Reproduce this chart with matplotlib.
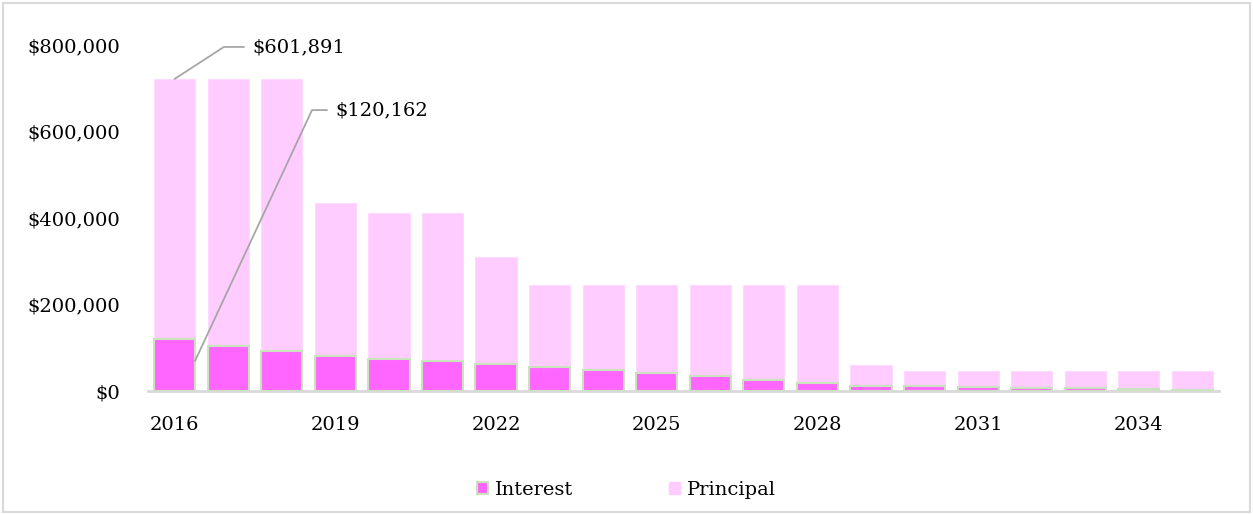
import matplotlib.pyplot as plt
from matplotlib.patches import Patch, Rectangle
from matplotlib.ticker import FuncFormatter
import numpy as np

# Annual debt service, split into interest and principal
years = list(range(2016, 2036))
interest = [120162, 104000, 92000, 82000, 75000, 69000, 62000, 55500, 48600, 42300,
            34000, 26000, 18500, 12000, 11000, 9000, 7500, 6500, 5000, 3000]
principal = [601891, 618000, 630000, 353000, 337000, 343000, 249000, 189500, 196400, 202700,
             211000, 219000, 226500, 47400, 36000, 38000, 39500, 40500, 42000, 44000]
tick_years = [2016, 2019, 2022, 2025, 2028, 2031, 2034]

INTEREST_COLOR = "#FF66FF"
INTEREST_EDGE = "#C9E3BC"
PRINCIPAL_COLOR = "#FFCCFF"
AXIS_GRAY = "#D9D9D9"
LEADER_GRAY = "#A6A6A6"

plt.rcParams["font.family"] = ["DejaVu Serif"]
plt.rcParams["font.size"] = 14

fig = plt.figure(figsize=(12.53, 5.14), dpi=100)
ax = fig.add_axes([0.118, 0.239, 0.855, 0.673])

x = np.arange(len(years))
width = 0.77
ax.bar(x, interest, width, color=INTEREST_COLOR, edgecolor=INTEREST_EDGE,
       linewidth=1.5, label="Interest", zorder=3)
ax.bar(x, principal, width, bottom=interest, color=PRINCIPAL_COLOR,
       edgecolor="#FFD6FF", linewidth=0.6, label="Principal", zorder=2)

ax.set_xlim(-0.5, len(years) - 0.5)
ax.set_ylim(0, 800000)
ax.set_yticks([0, 200000, 400000, 600000, 800000])
ax.yaxis.set_major_formatter(FuncFormatter(lambda v, _: f"${v:,.0f}"))
ax.set_xticks([years.index(y) for y in tick_years])
ax.set_xticklabels([str(y) for y in tick_years])
ax.tick_params(axis="both", length=0)
ax.tick_params(axis="x", pad=18)
ax.tick_params(axis="y", pad=20)

for side in ["top", "right", "left"]:
    ax.spines[side].set_visible(False)
ax.spines["bottom"].set_color(AXIS_GRAY)
ax.spines["bottom"].set_linewidth(2)
ax.spines["bottom"].set_zorder(1)

# Callouts for the first year's principal and interest
total0 = interest[0] + principal[0]
ax.annotate(f"${principal[0]:,}", xy=(0, total0), xytext=(1.45, 796000),
            va="center", ha="left", annotation_clip=False,
            arrowprops=dict(arrowstyle="-", color=LEADER_GRAY, lw=1.3,
                            connectionstyle="angle,angleA=0,angleB=33,rad=0",
                            shrinkA=4, shrinkB=0))
ax.annotate(f"${interest[0]:,}", xy=(0.38, interest[0] * 0.58), xytext=(3.0, 650000),
            va="center", ha="left", annotation_clip=False,
            arrowprops=dict(arrowstyle="-", color=LEADER_GRAY, lw=1.3,
                            connectionstyle="angle,angleA=0,angleB=65,rad=0",
                            shrinkA=4, shrinkB=0), zorder=4)

handles = [Patch(facecolor=INTEREST_COLOR, edgecolor=INTEREST_EDGE, linewidth=1.5),
           Patch(facecolor=PRINCIPAL_COLOR, edgecolor=PRINCIPAL_COLOR)]
fig.legend(handles, ["Interest", "Principal"], loc="center",
           bbox_to_anchor=(0.5, 1 - 490 / 514), ncol=2, frameon=False,
           handlelength=0.6, handleheight=0.6, handletextpad=0.35,
           columnspacing=4.9)

# Light outer frame around the figure
fig.patches.append(Rectangle((0.002, 0.004), 0.996, 0.99, transform=fig.transFigure,
                             fill=False, edgecolor=AXIS_GRAY, linewidth=1.5))

fig.savefig("out.png", dpi=100)
